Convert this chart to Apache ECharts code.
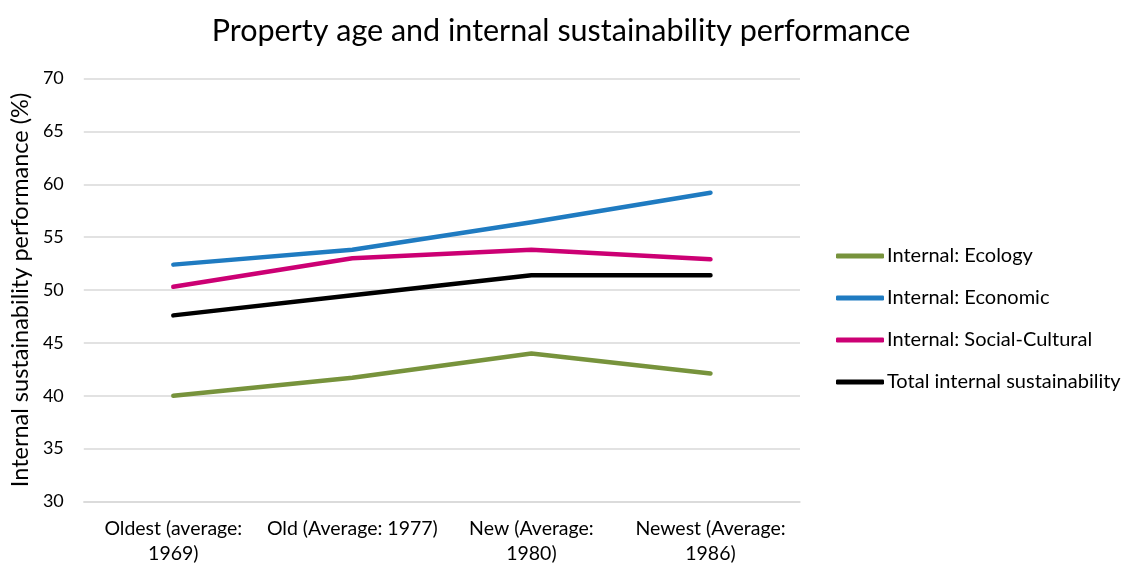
<!DOCTYPE html>
<html>
<head>
<meta charset="utf-8">
<script src="https://cdn.jsdelivr.net/npm/echarts@6/dist/echarts.min.js"></script>
<style>
  html, body { margin: 0; padding: 0; background: #fff; }
  #chart { width: 1122px; height: 568px; }
</style>
</head>
<body>
<div id="chart"></div>
<script>
// Property age groups (x axis)
const categories = [
  'Oldest (average:\n1969)',
  'Old (Average: 1977)',
  'New (Average:\n1980)',
  'Newest (Average:\n1986)'
];

// Internal sustainability performance (%) per age group
const ecology = [40.0, 41.7, 44.0, 42.1];
const economic = [52.4, 53.8, 56.4, 59.2];
const socialCultural = [50.3, 53.0, 53.8, 52.9];
const totalInternal = [47.6, 49.5, 51.4, 51.4];

const seriesNames = [
  'Internal: Ecology',
  'Internal: Economic',
  'Internal: Social-Cultural',
  'Total internal sustainability'
];
const seriesColors = ['#77933C', '#1F7BC1', '#CC0074', '#000000'];
const seriesData = [ecology, economic, socialCultural, totalInternal];

const FONT = 'Lato, "Liberation Sans", sans-serif';

const chart = echarts.init(document.getElementById('chart'), null, { renderer: 'canvas' });

chart.setOption({
  animation: false,
  backgroundColor: '#ffffff',
  title: {
    text: 'Property age and internal sustainability performance',
    left: 'center',
    top: 11,
    textStyle: { fontFamily: FONT, fontSize: 30.5, fontWeight: 'normal', color: '#000' }
  },
  legend: {
    orient: 'vertical',
    left: 831,
    top: 239,
    itemWidth: 48,
    itemHeight: 5,
    itemGap: 18,
    icon: 'roundRect',
    data: seriesNames,
    textStyle: { fontFamily: FONT, fontSize: 20, color: '#000', lineHeight: 24, padding: [0, 0, 0, -2] }
  },
  grid: { left: 83, right: 322, top: 78.5, bottom: 66.5, containLabel: false },
  xAxis: {
    type: 'category',
    data: categories,
    boundaryGap: true,
    axisLine: { lineStyle: { color: '#D9D9D9', width: 1.5 } },
    axisTick: { show: false },
    axisLabel: {
      interval: 0,
      margin: 15,
      fontFamily: FONT,
      fontSize: 19.5,
      lineHeight: 25,
      color: '#000'
    }
  },
  yAxis: {
    type: 'value',
    min: 30,
    max: 70,
    interval: 5,
    name: 'Internal sustainability performance (%)',
    nameLocation: 'middle',
    nameGap: 50,
    nameTextStyle: { fontFamily: FONT, fontSize: 23.5, color: '#000' },
    axisLine: { show: false },
    axisTick: { show: false },
    axisLabel: { margin: 20, fontFamily: FONT, fontSize: 18, color: '#000' },
    splitLine: { lineStyle: { color: '#D9D9D9', width: 1.5 } }
  },
  series: seriesNames.map((name, i) => ({
    name: name,
    type: 'line',
    data: seriesData[i],
    symbol: 'none',
    showSymbol: false,
    lineStyle: { color: seriesColors[i], width: 4.5, cap: 'round', join: 'round' },
    itemStyle: { color: seriesColors[i] }
  }))
});
</script>
</body>
</html>
